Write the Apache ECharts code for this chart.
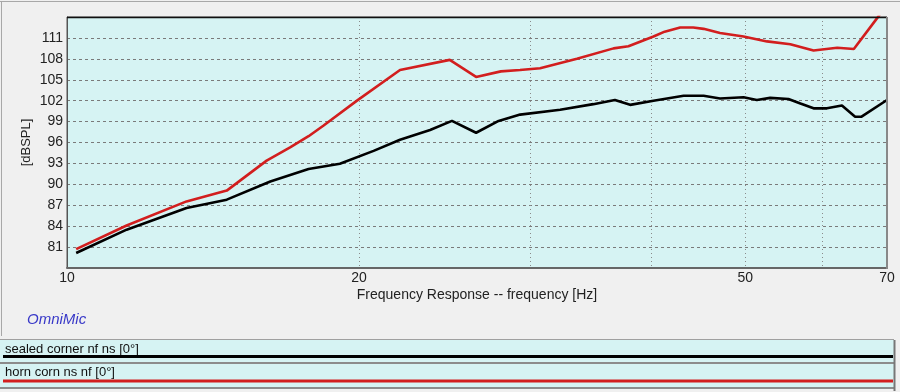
<!DOCTYPE html>
<html><head><meta charset="utf-8">
<script src="https://cdn.jsdelivr.net/npm/echarts@6/dist/echarts.min.js"></script>
<style>html,body{margin:0;padding:0;background:#f0f0f0}#c{width:900px;height:392px}</style>
</head><body><div id="c"></div>
<script>
// ---- data ----
const sealedFreq = [10.22, 11.52, 13.28, 14.61, 16.2, 17.74, 19.11, 20.7, 22.04, 23.67, 24.93, 26.4, 27.85, 29.31, 32.23, 34.87, 36.7, 38.05, 40.22, 43.2, 45.3, 47.1, 49.8, 51.4, 53.05, 55.4, 57.0, 58.8, 60.7, 62.9, 64.9, 65.9, 70];
const sealedSpl  = [80.15, 83.5, 86.6, 87.8, 90.4, 92.2, 92.95, 94.8, 96.4, 97.8, 99.1, 97.4, 99.1, 100.0, 100.7, 101.5, 102.1, 101.4, 102.0, 102.7, 102.7, 102.3, 102.5, 102.1, 102.4, 102.25, 101.6, 100.9, 100.9, 101.3, 99.7, 99.7, 102.1];
const hornFreq = [10.22, 11.52, 13.28, 14.61, 16.06, 16.98, 17.74, 18.37, 19.9, 22.04, 24.8, 26.4, 28.0, 29.3, 30.73, 33.54, 36.58, 37.9, 40.22, 41.3, 42.85, 44.2, 45.3, 47.1, 49.8, 52.65, 55.65, 58.8, 62.2, 64.7, 68.35, 70];
const hornSpl  = [80.7, 84.1, 87.55, 89.1, 93.4, 95.3, 96.9, 98.4, 102.0, 106.4, 107.85, 105.4, 106.2, 106.4, 106.65, 108.0, 109.5, 109.8, 111.2, 111.9, 112.5, 112.5, 112.3, 111.7, 111.2, 110.5, 110.1, 109.2, 109.6, 109.4, 113.8, 115.8];
const seriesNames = ['sealed corner nf ns [0°]', 'horn corn ns nf [0°]'];
const xLabelValues = [10, 20, 50, 70];
const xGridValues = [10, 20, 30, 40, 50, 60, 70];
const yTickLabels = [81, 84, 87, 90, 93, 96, 99, 102, 105, 108, 111];
const xAxisTitle = 'Frequency Response -- frequency [Hz]';
const yAxisTitle = '[dBSPL]';
const brand = 'OmniMic';

const zip = (a, b) => a.map((v, i) => [v, b[i]]);
const FONT = '"Liberation Sans", Arial, sans-serif';
const chart = echarts.init(document.getElementById('c'), null, {renderer: 'canvas'});

chart.setOption({
  backgroundColor: '#f0f0f0',
  animation: false,
  grid: {left: 67, right: 13, top: 17, height: 251, show: true, backgroundColor: '#d6f3f3', borderColor: '#555', borderWidth: 1},
  xAxis: {
    type: 'log', logBase: 10, min: 10, max: 70,
    name: xAxisTitle, nameLocation: 'middle', nameGap: 20, nameMoveOverlap: false,
    nameTextStyle: {fontFamily: FONT, fontSize: 14, color: '#222'},
    axisLine: {show: true, onZero: false, lineStyle: {color: '#666', width: 2}},
    axisTick: {show: false, customValues: xGridValues},
    axisLabel: {customValues: xLabelValues, fontFamily: FONT, fontSize: 14, color: '#222', margin: 3},
    splitLine: {show: true, lineStyle: {color: '#8a8a8a', type: [1, 3], width: 1}},
    minorSplitLine: {show: false}
  },
  yAxis: {
    type: 'value', min: 78, max: 114, interval: 3,
    name: yAxisTitle, nameLocation: 'middle', nameGap: 34, nameRotate: 90, nameMoveOverlap: false,
    nameTextStyle: {fontFamily: FONT, fontSize: 13, color: '#222'},
    axisLine: {show: true, lineStyle: {color: '#555', width: 1}},
    axisTick: {show: false},
    axisLabel: {fontFamily: FONT, fontSize: 14, color: '#222', margin: 4,
      formatter: v => yTickLabels.includes(v) ? String(v) : ''},
    splitLine: {show: true, lineStyle: {color: '#7a7a7a', type: [3, 3], width: 1}}
  },
  series: [
    {name: seriesNames[0], type: 'line', data: zip(sealedFreq, sealedSpl), showSymbol: false, symbol: 'none', clip: true,
      lineStyle: {color: '#000', width: 2.6}, z: 3},
    {name: seriesNames[1], type: 'line', data: zip(hornFreq, hornSpl), showSymbol: false, symbol: 'none', clip: true,
      lineStyle: {color: '#d21e1e', width: 2.6}, z: 4}
  ],
  graphic: [
    {type: 'line', shape: {x1: 0, y1: 1.5, x2: 900, y2: 1.5}, style: {stroke: '#a8a8a8', lineWidth: 1}, silent: true},
    {type: 'line', shape: {x1: 1.5, y1: 1, x2: 1.5, y2: 336}, style: {stroke: '#a8a8a8', lineWidth: 1}, silent: true},
    {type: 'line', shape: {x1: 67, y1: 17.5, x2: 887, y2: 17.5}, style: {stroke: '#111', lineWidth: 1.5}, silent: true, z: 10},
    {type: 'line', shape: {x1: 887, y1: 17, x2: 887, y2: 269}, style: {stroke: '#888', lineWidth: 2}, silent: true, z: 10},
    {type: 'text', left: 27, top: 312, style: {text: brand, fontFamily: FONT, fontSize: 15, fontStyle: 'italic', fill: '#3838c8'}},
    // legend rows
    {type: 'rect', shape: {x: 0, y: 339, width: 894, height: 49}, style: {fill: '#d6f3f3'}, silent: true},
    {type: 'line', shape: {x1: 0, y1: 339.5, x2: 894, y2: 339.5}, style: {stroke: '#a0a0a0', lineWidth: 1}, silent: true},
    {type: 'text', left: 5, top: 343, style: {text: seriesNames[0], fontFamily: FONT, fontSize: 13, fill: '#111'}},
    {type: 'line', shape: {x1: 3, y1: 356.5, x2: 893, y2: 356.5}, style: {stroke: '#000', lineWidth: 3}, silent: true},
    {type: 'line', shape: {x1: 0, y1: 363, x2: 894, y2: 363}, style: {stroke: '#8c8c8c', lineWidth: 2}, silent: true},
    {type: 'text', left: 5, top: 366, style: {text: seriesNames[1], fontFamily: FONT, fontSize: 13, fill: '#111'}},
    {type: 'line', shape: {x1: 3, y1: 381, x2: 893, y2: 381}, style: {stroke: '#d21e1e', lineWidth: 3}, silent: true},
    {type: 'line', shape: {x1: 0, y1: 388, x2: 894, y2: 388}, style: {stroke: '#8c8c8c', lineWidth: 2}, silent: true},
    {type: 'line', shape: {x1: 894.5, y1: 340, x2: 894.5, y2: 391}, style: {stroke: '#777', lineWidth: 2}, silent: true}
  ]
});
</script></body></html>
